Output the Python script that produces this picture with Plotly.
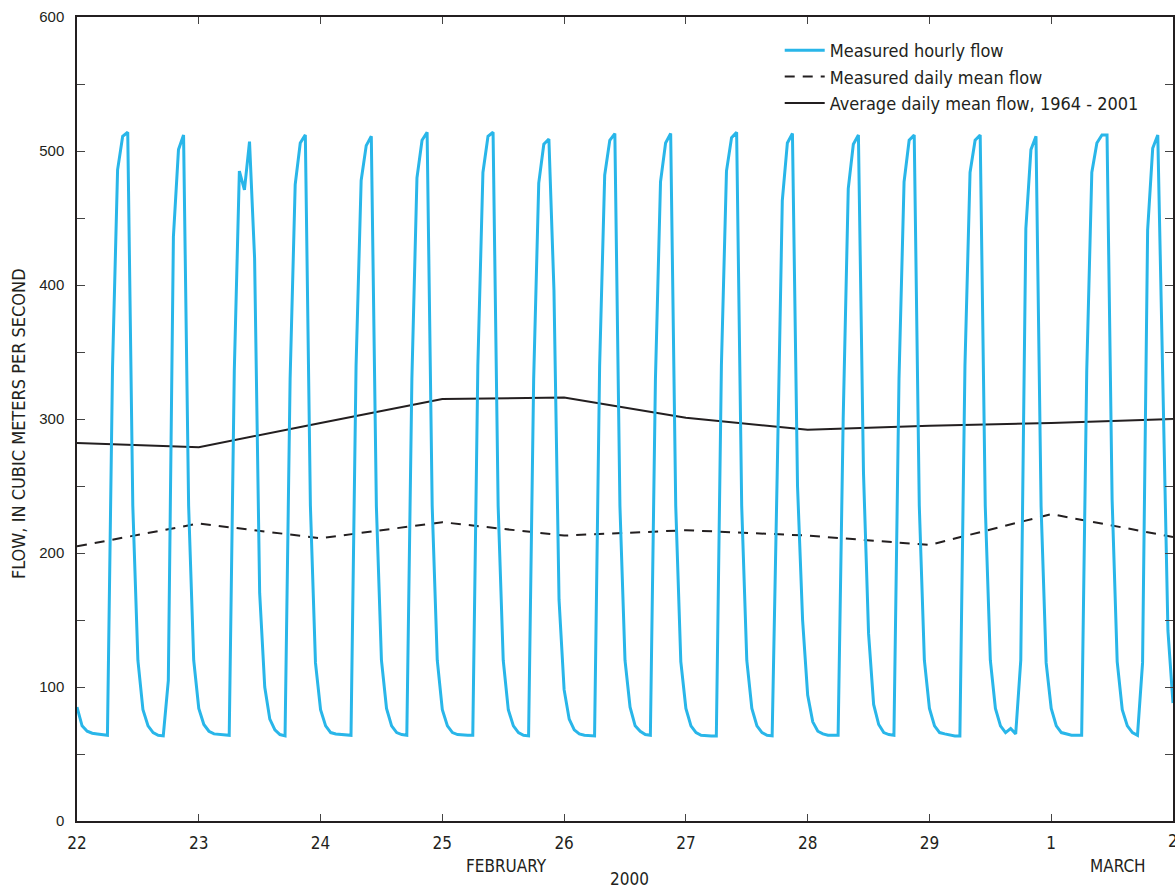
import pandas as pd
import plotly.graph_objects as go

# Hourly discharge, one list of 24 readings (00:00-23:00) per day, m3/s
feb22 = [85, 71, 67, 65.5, 65, 64.5, 64, 338, 486, 511, 514, 235, 120, 83, 71, 66, 64, 63.5, 105, 436, 501, 512, 235, 120]
feb23 = [84, 72, 67, 65, 64.5, 64, 64, 336, 485, 471, 507, 420, 170, 100, 76, 68, 64.5, 63.5, 330, 475, 506, 512, 235, 118]
feb24 = [83, 71, 66, 65, 64.5, 64, 64, 340, 478, 504, 511, 235, 120, 84, 71, 66, 64.5, 64, 330, 480, 508, 514, 235, 120]
feb25 = [83, 71, 66, 64.5, 64, 64, 64, 340, 484, 511, 514, 235, 120, 83, 71, 66, 64, 63.5, 330, 476, 505, 509, 396, 165]
feb26 = [98, 76, 68, 65, 64, 63.5, 63.5, 340, 482, 508, 513, 235, 120, 85, 71, 67, 64.5, 64, 330, 477, 506, 513, 235, 119]
feb27 = [84, 71, 66, 64, 63.5, 63.5, 63.5, 340, 485, 510, 514, 235, 120, 84, 71, 66, 64, 63.5, 260, 463, 506, 513, 250, 150]
feb28 = [94, 74, 67, 65, 64, 64, 64, 300, 472, 505, 512, 260, 140, 87, 72, 66, 64.5, 64, 330, 477, 508, 512, 235, 120]
feb29 = [84, 71, 66, 65, 64, 63.5, 63.5, 340, 484, 508, 512, 235, 120, 84, 71, 66, 69, 65, 120, 442, 501, 511, 235, 118]
mar01 = [84, 71, 66, 65, 64, 64, 64, 336, 484, 506, 512, 512, 240, 119, 83, 71, 66, 64, 118, 441, 502, 512, 320, 142]
mar02 = [88]

# Daily values, plotted at the start of each day
days = pd.date_range("2000-02-22", "2000-03-02", freq="D")
day_labels = ["22", "23", "24", "25", "26", "27", "28", "29", "1", "2"]
daily_mean = [205, 222, 211, 223, 213, 217, 213, 206, 229, 212]
average_daily_mean = [282, 279, 297, 315, 316, 301, 292, 295, 297, 300]

hourly = feb22 + feb23 + feb24 + feb25 + feb26 + feb27 + feb28 + feb29 + mar01 + mar02
hours = pd.date_range("2000-02-22", periods=len(hourly), freq="h")

CYAN = "#29B6E9"
INK = "#231F20"
FONT = "Liberation Sans Narrow, DejaVu Sans Condensed, Arial Narrow, sans-serif"

fig = go.Figure()
fig.add_trace(go.Scatter(
    x=days, y=average_daily_mean, mode="lines", name="Average daily mean flow, 1964 - 2001",
    line=dict(color=INK, width=2), legendrank=3))
fig.add_trace(go.Scatter(
    x=days, y=daily_mean, mode="lines", name="Measured daily mean flow",
    line=dict(color=INK, width=2, dash="10px,8px"), legendrank=2))
fig.add_trace(go.Scatter(
    x=hours, y=hourly, mode="lines", name="Measured hourly flow",
    line=dict(color=CYAN, width=3), legendrank=1))

W, H = 1175, 888
L, R, T, B = 77, 0, 17, 67
pw, ph = W - L - R, H - T - B


def px_x(x):
    return (x - L) / pw


def px_y(y):
    return (H - B - y) / ph


label_font = dict(size=17, family=FONT, color=INK)

fig.update_layout(
    width=W, height=H,
    margin=dict(l=L, r=R, t=T, b=B),
    paper_bgcolor="white", plot_bgcolor="white",
    font=dict(family=FONT, color=INK),
    showlegend=True,
    legend=dict(
        x=px_x(781), y=px_y(32), xanchor="left", yanchor="top",
        font=dict(size=18, family=FONT, color=INK),
        bgcolor="rgba(0,0,0,0)", borderwidth=0, itemwidth=40,
        traceorder="normal",
    ),
    xaxis=dict(
        type="date", range=[days[0], days[-1]],
        tickvals=list(days), ticktext=day_labels,
        ticks="inside", ticklen=7, tickwidth=1, tickcolor="#444",
        showline=True, linecolor=INK, linewidth=1.5, mirror="ticks",
        showgrid=False, zeroline=False,
        tickfont=label_font,
        ticklabelstandoff=6,
    ),
    yaxis=dict(
        range=[0, 600], tickvals=[0, 100, 200, 300, 400, 500, 600],
        ticks="inside", ticklen=8, tickwidth=1, tickcolor="#444",
        minor=dict(tickvals=[50, 150, 250, 350, 450, 550], ticks="inside",
                   ticklen=8, tickwidth=1, tickcolor="#444"),
        showline=True, linecolor=INK, linewidth=1.5, mirror="ticks",
        showgrid=False, zeroline=False,
        tickfont=dict(size=15, family="Liberation Sans, Arial, sans-serif", color=INK),
        ticklabelstandoff=8,
    ),
    annotations=[
        dict(text="FLOW, IN CUBIC METERS PER SECOND", xref="paper", yref="paper",
             x=px_x(18), y=px_y(424), textangle=-90, showarrow=False,
             xanchor="center", yanchor="middle", font=dict(size=18, family=FONT)),
        # last day label sits on the right border of the plot
        dict(text=day_labels[-1], xref="paper", yref="paper", x=1.0, y=px_y(841),
             showarrow=False, xanchor="center", yanchor="middle", font=label_font),
        dict(text="FEBRUARY", xref="paper", yref="paper", x=px_x(507), y=px_y(866),
             showarrow=False, xanchor="center", yanchor="middle", font=label_font),
        dict(text="MARCH", xref="paper", yref="paper", x=px_x(1120), y=px_y(866),
             showarrow=False, xanchor="center", yanchor="middle", font=label_font),
        dict(text="2000", xref="paper", yref="paper", x=px_x(631), y=px_y(879),
             showarrow=False, xanchor="center", yanchor="middle", font=label_font),
    ],
)

fig.write_html("out.html")
